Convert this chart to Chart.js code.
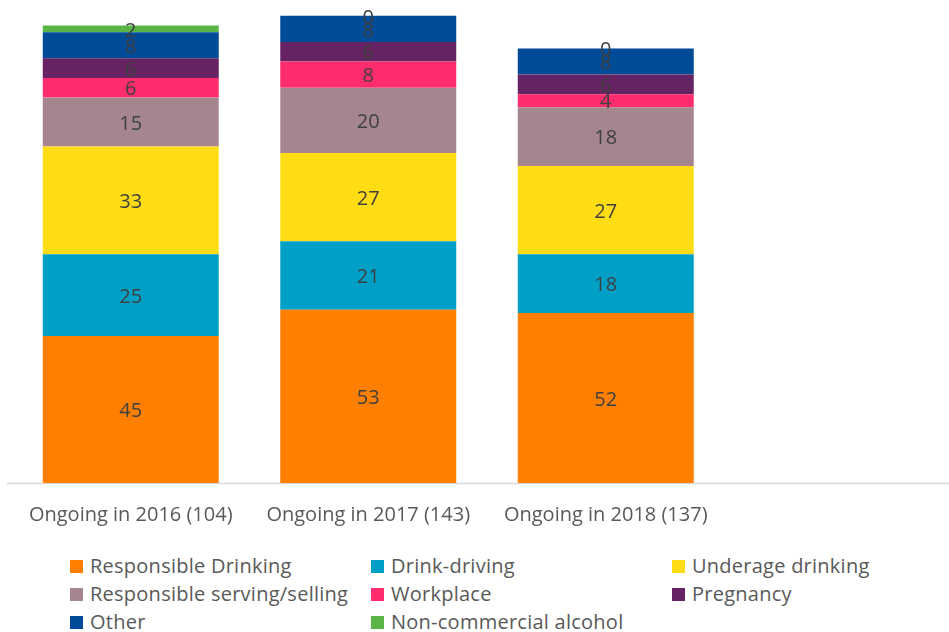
<!DOCTYPE html>
<html>
<head>
<meta charset="utf-8">
<script src="https://cdn.jsdelivr.net/npm/chart.js@4"></script>
<style>
  html, body { margin: 0; padding: 0; background: #fff; overflow: hidden; width: 949px; height: 632px; }
  #wrap { position: absolute; left: 0; top: 0; width: 970px; height: 540px; }
  #legend { position: absolute; left: 0; top: 552px; width: 949px; font-family: "Open Sans", sans-serif; font-size: 20px; color: #595959; letter-spacing: 0.25px; }
  .item { position: absolute; height: 28px; line-height: 28px; white-space: nowrap; }
  .box { display: inline-block; width: 13px; height: 13px; margin-right: 7px; vertical-align: 0px; }
</style>
</head>
<body>
<div id="wrap"><canvas id="chart"></canvas></div>
<div id="legend"></div>
<script>
// ---------- data ----------
const categories = ['Ongoing in 2016 (104)', 'Ongoing in 2017 (143)', 'Ongoing in 2018 (137)', ''];
const seriesNames = ['Responsible Drinking', 'Drink-driving', 'Underage drinking',
  'Responsible serving/selling', 'Workplace', 'Pregnancy', 'Other', 'Non-commercial alcohol'];
const responsibleDrinking = [45, 53, 52, null];
const drinkDriving        = [25, 21, 18, null];
const underageDrinking    = [33, 27, 27, null];
const responsibleServing  = [15, 20, 18, null];
const workplace           = [6, 8, 4, null];
const pregnancy           = [6, 6, 6, null];
const other               = [8, 8, 8, null];
const nonCommercial       = [2, 0, 0, null];

const seriesValues = [responsibleDrinking, drinkDriving, underageDrinking, responsibleServing,
  workplace, pregnancy, other, nonCommercial];
const colors = ['#FF8000', '#00A0C6', '#FFDC14', '#A5868F', '#FF2D6D', '#652363', '#004B98', '#5AB446'];

// ---------- value labels + axis line ----------
const valueLabels = {
  id: 'valueLabels',
  beforeDatasetsDraw(chart) {
    // light category axis line, running past the plot edges like the original
    const ctx = chart.ctx;
    const y = chart.chartArea.bottom + 0.5;
    ctx.save();
    ctx.strokeStyle = '#D9D9D9';
    ctx.lineWidth = 1.5;
    ctx.beginPath();
    ctx.moveTo(7, y);
    ctx.lineTo(chart.width, y);
    ctx.stroke();
    ctx.restore();
  },
  afterDatasetsDraw(chart) {
    const ctx = chart.ctx;
    ctx.save();
    ctx.font = '20px "Open Sans", sans-serif';
    ctx.fillStyle = '#404040';
    ctx.textAlign = 'center';
    ctx.textBaseline = 'middle';
    chart.data.datasets.forEach((ds, i) => {
      chart.getDatasetMeta(i).data.forEach((bar, j) => {
        const v = ds.data[j];
        if (v === null || v === undefined) return;
        ctx.fillText(String(v), bar.x, (bar.y + bar.base) / 2 + 2);
      });
    });
    ctx.restore();
  }
};

const chart = new Chart(document.getElementById('chart'), {
  type: 'bar',
  data: {
    labels: categories,
    datasets: seriesNames.map((name, i) => ({
      label: name,
      data: seriesValues[i],
      backgroundColor: colors[i],
      borderWidth: 0,
      categoryPercentage: 1,
      barPercentage: 0.741
    }))
  },
  options: {
    responsive: true,
    maintainAspectRatio: false,
    animation: false,
    layout: { padding: { left: 12, right: 8, top: 6, bottom: 0 } },
    plugins: { legend: { display: false }, tooltip: { enabled: false } },
    scales: {
      x: {
        stacked: true,
        grid: { display: false, drawTicks: false },
        border: { display: false },
        ticks: {
          color: '#595959',
          font: { family: '"Open Sans", sans-serif', size: 20 },
          padding: 20,
          maxRotation: 0,
          autoSkip: false
        },
        afterFit(scale) { scale.height = 57; }
      },
      y: {
        stacked: true,
        display: false,
        min: 0,
        max: 146
      }
    }
  },
  plugins: [valueLabels]
});

// ---------- legend ----------
const legendCols = [70, 371, 672];
const legendEl = document.getElementById('legend');
seriesNames.forEach((name, i) => {
  const d = document.createElement('div');
  d.className = 'item';
  d.style.left = legendCols[i % 3] + 'px';
  d.style.top = (Math.floor(i / 3) * 28) + 'px';
  d.innerHTML = `<span class="box" style="background:${colors[i]}"></span>${name}`;
  legendEl.appendChild(d);
});
</script>
</body>
</html>
